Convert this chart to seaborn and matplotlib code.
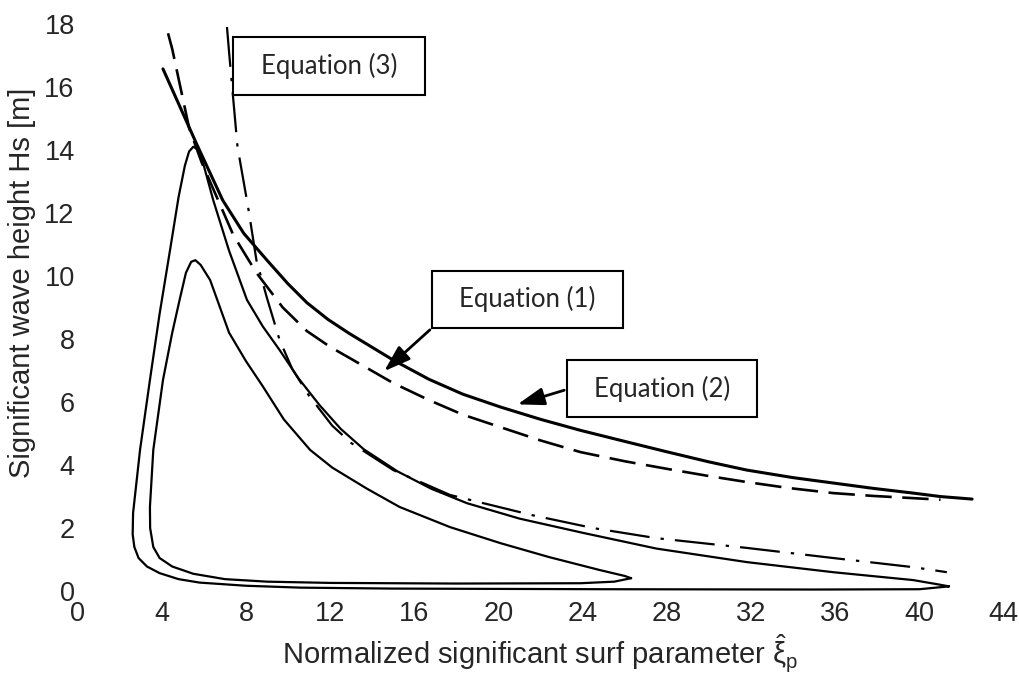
import matplotlib
matplotlib.use("Agg")
import matplotlib.pyplot as plt
import seaborn as sns
import pandas as pd
from matplotlib.patches import Rectangle

# closed contours
outer_x = [41.4, 40.0, 35.0, 25.0, 15.0, 10.6, 8.0, 5.8, 4.8, 3.9, 3.3, 2.9, 2.7, 2.62, 2.64,
           2.97, 3.44, 3.9, 4.39, 4.8, 5.1, 5.3, 5.5, 5.75, 6.0, 6.45, 7.2, 8.05, 8.8, 9.6, 10.5,
           11.5, 12.5, 13.6, 15.2, 16.8, 18.5, 21.0, 24.0, 27.5, 31.8, 35.9, 39.7, 41.0, 41.4]
outer_y = [0.15, 0.06, 0.05, 0.06, 0.08, 0.11, 0.17, 0.27, 0.38, 0.57, 0.78, 1.05, 1.4, 1.8, 2.48,
           4.48, 6.7, 8.8, 10.8, 12.5, 13.5, 13.95, 14.1, 14.0, 13.5, 12.4, 10.8, 9.24, 8.4, 7.65, 6.75,
           5.9, 5.15, 4.5, 3.8, 3.25, 2.79, 2.3, 1.85, 1.35, 0.92, 0.6, 0.35, 0.2, 0.15]

inner_x = [26.3, 25.5, 23.9, 18.0, 12.0, 9.0, 7.0, 5.5, 4.5, 3.9, 3.6, 3.45, 3.44, 3.6, 4.06,
           4.5, 4.87, 5.15, 5.4, 5.6, 5.85, 6.3, 7.2, 8.0, 8.8, 9.8, 11.05, 12.1, 13.75, 15.3,
           17.7, 20.1, 22.4, 24.8, 26.0, 26.3]
inner_y = [0.41, 0.3, 0.25, 0.24, 0.26, 0.3, 0.38, 0.55, 0.78, 1.05, 1.4, 2.0, 2.67, 4.48, 6.7,
           8.2, 9.3, 10.1, 10.45, 10.5, 10.35, 9.87, 8.2, 7.3, 6.5, 5.45, 4.48, 3.92, 3.25, 2.67,
           2.03, 1.52, 1.08, 0.67, 0.48, 0.41]

# Equation (1) - dashed
eq1_x = [4.3, 4.5, 5.3, 5.9, 7.4, 8.5, 9.75, 10.9, 12.0, 13.1, 15.0, 16.7, 18.3, 20.1, 22.0,
         23.9, 26.0, 28.0, 30.0, 31.8, 33.8, 35.9, 37.8, 39.7, 41.0]
eq1_y = [17.7, 17.2, 14.7, 13.6, 11.3, 10.1, 9.0, 8.25, 7.75, 7.33, 6.6, 6.06, 5.6, 5.2, 4.78,
         4.41, 4.12, 3.88, 3.65, 3.46, 3.27, 3.11, 3.02, 2.95, 2.9]

# Equation (2) - solid
eq2_x = [4.06, 5.65, 6.9, 7.9, 9.0, 10.0, 10.9, 11.9, 12.9, 15.0, 16.7, 18.3, 20.1, 22.0,
         23.9, 26.0, 28.0, 30.0, 31.8, 34.0, 35.9, 37.8, 39.7, 41.0, 42.5]
eq2_y = [16.57, 14.2, 12.4, 11.35, 10.5, 9.75, 9.15, 8.62, 8.18, 7.33, 6.72, 6.25, 5.84, 5.45,
         5.1, 4.75, 4.42, 4.1, 3.84, 3.6, 3.43, 3.26, 3.11, 3.0, 2.92]

# Equation (3) - dash-dot
eq3_x = [7.1, 7.2, 7.6, 8.1, 8.5, 9.0, 9.6, 10.2, 11.0, 12.1, 13.0, 15.0, 17.7, 21.6, 24.5,
         27.5, 31.8, 35.9, 39.7, 41.3]
eq3_y = [17.9, 17.1, 14.1, 12.2, 10.5, 9.3, 7.97, 7.05, 6.2, 5.25, 4.7, 3.84, 3.05, 2.41, 2.0,
         1.68, 1.37, 1.05, 0.76, 0.6]

x_ticks = [0, 4, 8, 12, 16, 20, 24, 28, 32, 36, 40, 44]
y_ticks = [0, 2, 4, 6, 8, 10, 12, 14, 16, 18]

sns.set_style("white")
plt.rcParams['font.family'] = ['Liberation Sans', 'DejaVu Sans']
plt.rcParams['mathtext.fontset'] = 'custom'
plt.rcParams['mathtext.rm'] = 'Liberation Sans'
plt.rcParams['mathtext.it'] = 'Liberation Sans'

fig = plt.figure(figsize=(10.2, 6.81), dpi=100)
ax = fig.add_axes([0.076, 0.132, 0.908, 0.833])

def draw(xs, ys, **kw):
    df = pd.DataFrame({'x': xs, 'y': ys})
    sns.lineplot(data=df, x='x', y='y', sort=False, estimator=None, color='black', ax=ax, **kw)

draw(outer_x, outer_y, linewidth=1.6)
draw(inner_x, inner_y, linewidth=1.6)
draw(eq2_x, eq2_y, linewidth=2.2)
draw(eq1_x, eq1_y, linewidth=1.9, linestyle=(0, (10, 4)))
draw(eq3_x, eq3_y, linewidth=1.6, linestyle=(0, (18, 5, 1.5, 5)))

ax.set_xlim(0, 44)
ax.set_ylim(0, 18)
ax.set_xticks(x_ticks)
ax.set_yticks(y_ticks)
ax.tick_params(axis='both', length=0, labelsize=19.5)
ax.tick_params(axis='x', pad=7)
ax.tick_params(axis='y', pad=2)
for s in ax.spines.values():
    s.set_visible(False)

ax.set_xlabel(r"Normalized significant surf parameter $\hat{\xi}_\mathregular{p}$", fontsize=21)
ax.set_ylabel("Significant wave height Hs [m]", fontsize=21)
ax.yaxis.set_label_coords(-0.045, 0.544)

# annotation boxes
boxes = [("Equation (3)", 7.39, 15.75, 9.11, 1.84),
         ("Equation (1)", 16.84, 8.35, 9.07, 1.81),
         ("Equation (2)", 23.25, 5.52, 9.03, 1.81)]
for label, bx, by, bw, bh in boxes:
    ax.add_patch(Rectangle((bx, by), bw, bh, facecolor='white', edgecolor='black',
                           linewidth=1.5, zorder=5, clip_on=False))
    ax.text(bx + bw / 2, by + bh / 2, label, ha='center', va='center', fontsize=18.5,
            family=['Lato', 'DejaVu Sans'], zorder=6)

arrow = dict(arrowstyle='-|>,head_length=0.9,head_width=0.3', color='black', lw=2,
             mutation_scale=18)
ax.annotate("", xy=(14.47, 6.92), xytext=(16.84, 8.35), arrowprops=arrow, zorder=7)
ax.annotate("", xy=(20.78, 5.9), xytext=(23.25, 6.4), arrowprops=arrow, zorder=7)

fig.savefig("out.png", dpi=100)
